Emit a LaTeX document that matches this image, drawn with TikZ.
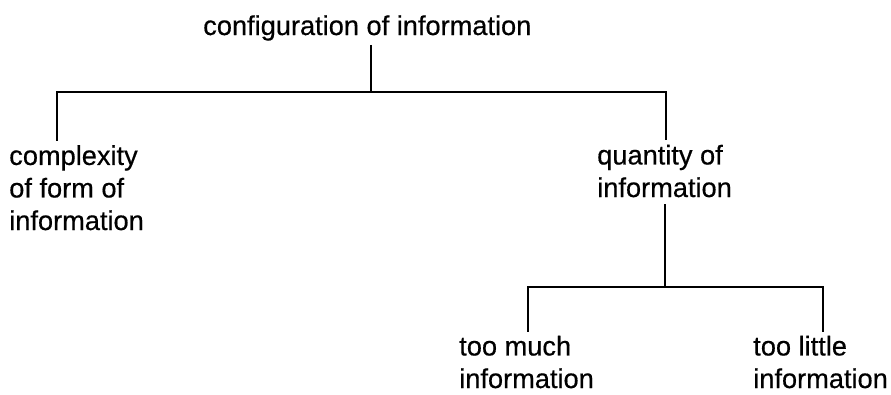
\documentclass[tikz,border=0pt]{standalone}
\usepackage{fontspec}
\setmainfont{Liberation Sans}
\newfontfamily\labelfont{Liberation Sans}[FakeBold=0.5]
\begin{document}
\begin{tikzpicture}[x=0.75pt,y=-0.75pt,
    lbl/.style={anchor=base west, align=left, inner xsep=0pt, inner ysep=3pt,
        font=\fontsize{20.4}{24.4}\labelfont},
    branch/.style={line width=1.5pt}]
    \useasboundingbox (0,0) rectangle (891,394);
    % base is the baseline of the last line
    \node[lbl] (config) at (203,35) {configuration of information};
    \node[lbl] (form) at (9,230) {complexity\\of form of\\information};
    \node[lbl] (quantity) at (597,197) {quantity of\\information};
    \node[lbl] (much) at (459,388) {too much\\information};
    \node[lbl] (little) at (753,388) {too little\\information};
    % joints of the two levels
    \coordinate (top bar) at (371,92);
    \coordinate (low bar) at (665,287);
    \draw[branch] (config.south -| top bar) -- (top bar);
    \draw[branch] ([xshift=36pt]form.north west) |- (top bar) -| ([xshift=51.5pt]quantity.north west);
    \draw[branch] ([yshift=-2pt]quantity.south -| low bar) -- (low bar);
    \draw[branch] ([xshift=51.75pt]much.north west) |- (low bar) -| ([xshift=52.5pt]little.north west);
\end{tikzpicture}
\end{document}
